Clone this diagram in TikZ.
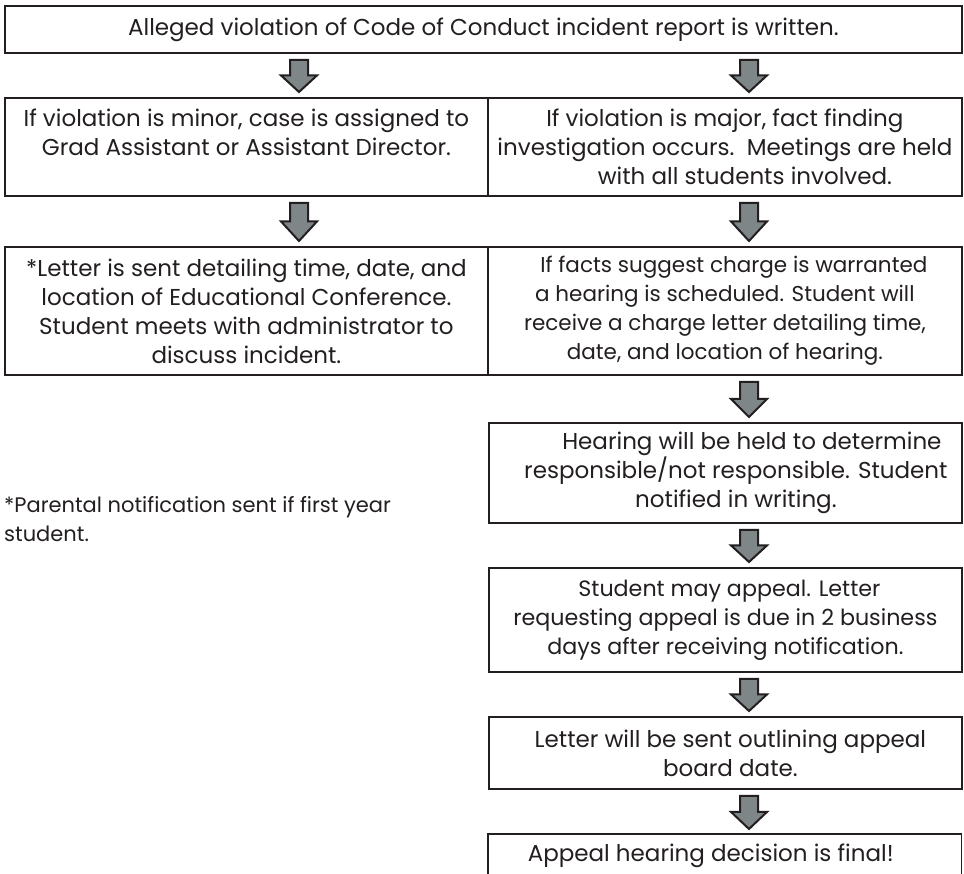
\documentclass[tikz,border=0pt]{standalone}
\usepackage{fontspec}
\setmainfont{Poppins}
\usetikzlibrary{calc}
\definecolor{ink}{RGB}{35,31,32}
\definecolor{arrowgray}{RGB}{127,134,135}
\tikzset{
  box/.style={draw=ink, line width=1.8pt, anchor=north west, inner sep=0pt,
    align=center, text=ink, font=\fontsize{23}{29}\selectfont},
  opentop/.style={draw=none, anchor=north west, inner sep=0pt,
    align=center, text=ink, font=\fontsize{23}{29}\selectfont},
  note/.style={anchor=base west, inner sep=0pt, align=left, text=ink,
    font=\fontsize{21}{29}\selectfont},
  edge/.style={draw=ink, line width=1.8pt},
  blockarrow/.style={draw=ink, fill=arrowgray, line width=2pt, line join=miter,
    to path={let \p1=(\tikztostart), \p2=(\tikztotarget) in
      (\x1-9pt,\y1-6pt) -- (\x1+9pt,\y1-6pt)
      -- (\x1+9pt,{(\y1+\y2)/2}) -- (\x1+18pt,{(\y1+\y2)/2})
      -- (\x1,\y2+5pt)
      -- (\x1-18pt,{(\y1+\y2)/2}) -- (\x1-9pt,{(\y1+\y2)/2}) -- cycle}}
}
\begin{document}
\begin{tikzpicture}[x=1pt,y=-1pt]
\useasboundingbox (0,0) rectangle (964,874);
\clip (0,0) rectangle (964,874);
\fill[white] (0,0) rectangle (964,874);
\coordinate (xL) at (299,0);
\coordinate (xR) at (749,0);

\node[box, minimum width=957pt, minimum height=47pt] (top) at (4,5)
  {Alleged violation of Code of Conduct incident report is written.};

\node[box, minimum width=483pt, minimum height=98pt] (r2l) at (4,97)
  {If violation is minor, case is assigned to\\Grad Assistant or Assistant Director.\\\mbox{}};
\node[box, minimum width=474pt, minimum height=98pt] (r2r) at (487,97)
  {If violation is major, fact finding\\investigation occurs.\ \ Meetings are held\\\hspace*{40pt}with all students involved.};

\node[box, minimum width=483pt, minimum height=128pt] (r3l) at (4,246)
  {*Letter is sent detailing time, date, and\\location of Educational Conference.\\Student meets with administrator to\\discuss incident.};
\node[box, minimum width=474pt, minimum height=128pt, font=\fontsize{21.5}{29}\selectfont] (r3r) at (487,246)
  {\hspace*{18pt}If facts suggest charge is warranted\\a hearing is scheduled. Student will\\receive a charge letter detailing time,\\date, and location of hearing.};

\node[box, minimum width=473pt, minimum height=100pt] (b4) at (488,422)
  {\hspace*{53pt}Hearing will be held to determine\\\hspace*{21pt}responsible/not responsible. Student\\\hspace*{21pt}notified in writing.};

\node[box, minimum width=473pt, minimum height=104pt, font=\fontsize{22.2}{29}\selectfont] (b5) at (488,567)
  {\hspace*{8pt}Student may appeal. Letter\\requesting appeal is due in 2 business\\days after receiving notification.};

\node[box, minimum width=473pt, minimum height=72pt] (b6) at (488,716)
  {\hspace*{10pt}Letter will be sent outlining appeal\\\hspace*{10pt}board date.};

\node[opentop, minimum width=473pt, minimum height=44pt] (b7) at (488,834)
  {Appeal hearing decision is final!\hspace*{28pt}};
\draw[edge] ([yshift=-30pt]b7.south west) -- (b7.north west) -- (b7.north east) -- ([yshift=-30pt]b7.south east);

\node[note] (note) at (4,541)
  {*Parental notification sent if first year\\student.};

\draw[blockarrow] (top.south -| xL) to (r2l.north -| xL);
\draw[blockarrow] (top.south -| xR) to (r2r.north -| xR);
\draw[blockarrow] (r2l.south -| xL) to (r3l.north -| xL);
\draw[blockarrow] (r2r.south -| xR) to (r3r.north -| xR);
\draw[blockarrow] (r3r.south -| xR) to (b4.north -| xR);
\draw[blockarrow] (b4.south -| xR) to (b5.north -| xR);
\draw[blockarrow] (b5.south -| xR) to (b6.north -| xR);
\draw[blockarrow] (b6.south -| xR) to (b7.north -| xR);
\end{tikzpicture}
\end{document}
